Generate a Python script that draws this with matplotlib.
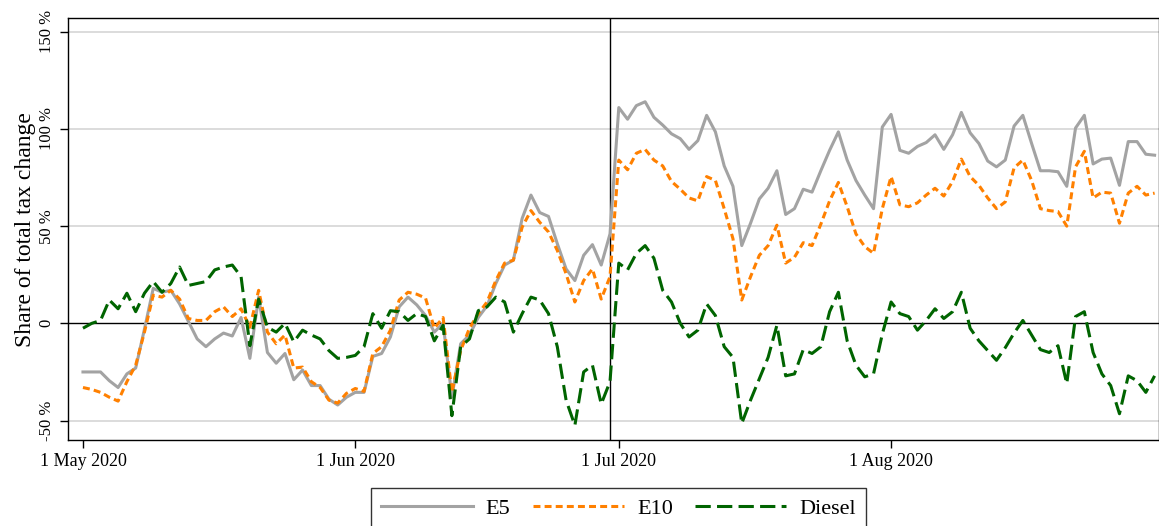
import pandas as pd
import matplotlib
matplotlib.use("Agg")
import matplotlib.pyplot as plt

plt.rcParams['font.family'] = ['Liberation Serif', 'DejaVu Serif']
plt.rcParams['lines.scale_dashes'] = False

# daily values, 1 May 2020 - 31 Aug 2020 (share of total tax change, %)
dates = pd.date_range("2020-05-01", "2020-08-31", freq="D")

e5 = [-25, -25, -25, -29.5, -33, -26, -23, -3, 18, 16,
      17, 10, 1, -8, -12, -8, -5, -6.5, 3, -18,
      13.5, -15, -20.5, -15.5, -29, -24, -32, -32, -39, -42,
      -38, -35.5, -35.5, -17, -15.5, -7, 8.5, 13.5, 9.5, 4,
      -4.5, 0, -38, -10.5, -6, 3, 9, 20.5, 30, 32.5,
      54, 66, 57, 55, 41, 28, 22, 35, 40.5, 30,
      46, 111, 105, 112, 114, 106, 102, 97.5, 95, 89.5,
      94, 107, 98.5, 81, 70.5, 40, 51.5, 64, 69.5, 78.5,
      56, 59, 69, 67.5, 78.5, 89, 98.5, 84, 73.5, 66,
      59, 101, 107.5, 89, 87.5, 91, 93, 97, 89.5, 97,
      108.5, 98, 92.5, 83.5, 80.5, 84, 101.5, 107, 92.5, 78.5,
      78.5, 78, 70.5, 100.5, 107, 82, 84.5, 85, 71, 93.5,
      93.5, 87, 86.5]

e10 = [-33, -34, -35.5, -38, -40, -30, -21.5, -4.5, 14.5, 13.5,
       17, 12.5, 2.5, 1.5, 1.5, 6, 8.5, 3.5, 7.5, -2,
       17, -4.5, -10.5, -6, -23, -22.5, -30, -33, -39.5, -41,
       -36, -33.5, -35, -15.5, -12, -3.5, 12, 16, 15, 13,
       -2.5, 3, -35.5, -14, -2.5, 5, 11, 22, 31, 32.5,
       49.5, 58, 52, 47, 37.5, 25.5, 11, 22, 28, 12.5,
       24, 84, 79, 87.5, 89.5, 84, 81, 73, 69, 64.5,
       63, 75.5, 73.5, 59, 43.5, 12, 24, 35, 40, 50.5,
       31, 34, 41.5, 40, 51, 63, 72.5, 60, 46, 39.5,
       36, 59, 75.5, 61, 60, 62, 66, 69.5, 65.5, 73,
       84.5, 75.5, 71, 64.5, 59, 62.5, 80, 84, 73.5, 59,
       58, 57.5, 50, 80.5, 88.5, 64.5, 67.5, 67, 51.5, 67,
       70.5, 66, 67]

diesel = [-2.5, 0, 1.5, 12, 7.5, 15.5, 6, 15.5, 21.5, 16,
          20.5, 29, 19.5, 20.5, 21.5, 27.5, 29, 30, 24, -11.5,
          12.5, -2, -4.5, 0, -9.5, -3.5, -6, -8, -14, -18,
          -17.5, -16.5, -12, 5, -2.5, 6.5, 6, 1.5, 5, 3.5,
          -9, -1, -47.5, -12, -8, 6.5, 8.5, 13.5, 11, -4.5,
          5, 13.5, 12, 5, -12, -39.5, -52.5, -25, -21.5, -41.5,
          -30, 31, 27.5, 36, 40, 33.5, 17, 11, 0, -7,
          -3.5, 10, 4, -12, -17.5, -51.5, -39.5, -28.5, -17.5, -1,
          -27, -26, -13.5, -15.5, -12, 6, 16, -9, -21.5, -27.5,
          -26, -5.5, 11, 5, 3.5, -3.5, 1.5, 7.5, 2.5, 6,
          16, -2.5, -9, -14, -19, -12.5, -5, 1.5, -6, -13.5,
          -15, -11.5, -31, 3.5, 6, -15, -26, -32, -46.5, -27,
          -29.5, -35.5, -27]

ytick_vals = [-50, 0, 50, 100, 150]
ytick_labels = ["-50 %", "0", "50 %", "100 %", "150 %"]
xtick_dates = pd.to_datetime(["2020-05-01", "2020-06-01", "2020-07-01", "2020-08-01"])
xtick_labels = ["1 May 2020", "1 Jun 2020", "1 Jul 2020", "1 Aug 2020"]
tax_change = pd.Timestamp("2020-06-30")

fig = plt.figure(figsize=(11.59, 5.26), dpi=100)
ax = fig.add_axes([0.0587, 0.1635, 0.9413, 0.802])

for v in [-50, 50, 100, 150]:
    ax.axhline(v, color="#dcdcdc", lw=1.4, zorder=0)
ax.axhline(0, color="black", lw=1.0, zorder=1)
ax.axvline(tax_change, color="black", lw=1.0, zorder=1)

ax.plot(dates, e5, color="#a3a3a3", lw=2.2, label="E5", zorder=3)
ax.plot(dates, e10, color="#ff8000", lw=2.2, dashes=(5, 3), label="E10", zorder=4)
ax.plot(dates, diesel, color="#006400", lw=2.2, dashes=(11, 4.5), label="Diesel", zorder=5)

ax.set_xlim(dates[0] - pd.Timedelta(days=1.7), dates[-1] + pd.Timedelta(days=0.5))
ax.set_ylim(-60, 157)

ax.set_yticks(ytick_vals)
ax.set_yticklabels(ytick_labels, rotation=90, va="center", fontsize=12)
ax.set_xticks(xtick_dates)
ax.set_xticklabels(xtick_labels, fontsize=13)
ax.tick_params(direction="out", length=6, width=1.0, color="black")
ax.set_ylabel("Share of total tax change", fontsize=17, labelpad=2)

for s in ax.spines.values():
    s.set_color("black")
    s.set_linewidth(1.0)

leg = fig.legend(loc="upper center", bbox_to_anchor=(0.534, 0.072), ncol=3,
                 fontsize=16, frameon=True, fancybox=False, edgecolor="black",
                 handlelength=4.1, handletextpad=0.6, columnspacing=1.0,
                 borderpad=0.45, borderaxespad=0)
leg.get_frame().set_linewidth(1.0)

fig.savefig("out.png", dpi=100)
